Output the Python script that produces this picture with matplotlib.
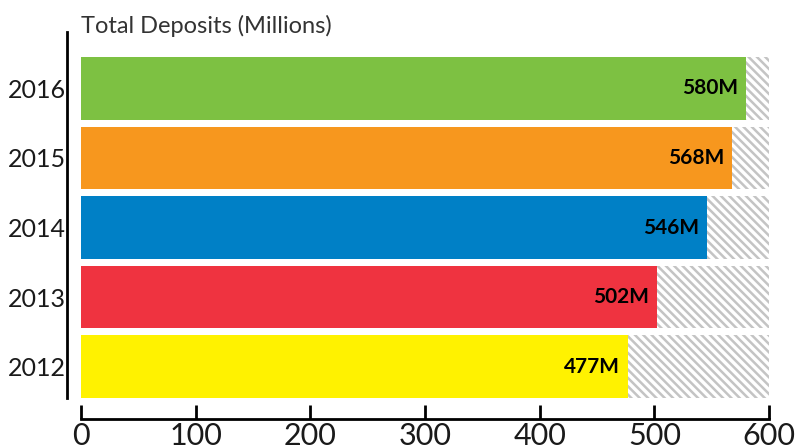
import matplotlib.pyplot as plt

# data
years = ["2012", "2013", "2014", "2015", "2016"]
deposits = [477, 502, 546, 568, 580]
colors = ["#fff200", "#ef3340", "#0080c6", "#f7971e", "#7dc142"]
max_value = 600
x_ticks = [0, 100, 200, 300, 400, 500, 600]

plt.rcParams['hatch.linewidth'] = 1.8
plt.rcParams['hatch.color'] = "#c4c4c4"

fig = plt.figure(figsize=(8, 4.48), dpi=100)
ax = fig.add_axes([0.10125, 0.1116, 0.86, 0.817])

pos = list(range(len(years)))

# hatched "remaining" bars behind the values
ax.barh(pos, [max_value] * len(years), height=0.9, color="white",
        edgecolor="#c4c4c4", linewidth=0, hatch="\\\\\\\\", zorder=1)
ax.barh(pos, deposits, height=0.9, color=colors, zorder=2)

for p, v in zip(pos, deposits):
    ax.text(v - 7, p, f"{v}M", ha="right", va="center", fontsize=15,
            fontweight="bold", family=["Lato", "DejaVu Sans"], color="black", zorder=3)

ax.spines['top'].set_visible(False)
ax.spines['right'].set_visible(False)
ax.spines['left'].set_position(('outward', 10))
ax.spines['bottom'].set_position(('outward', 15))
ax.spines['left'].set_linewidth(2)
ax.spines['bottom'].set_linewidth(2)

ax.set_xlim(0, max_value)
ax.set_ylim(-0.45, 4.81)
ax.set_yticks(pos)
ax.set_yticklabels(years, family=["Lato", "DejaVu Sans"], fontweight="normal",
                   fontsize=18, color="#1a1a1a")
ax.set_xticks(x_ticks)
ax.set_xticklabels([str(t) for t in x_ticks], family=["Lato", "DejaVu Sans"],
                   fontweight="normal", fontsize=22, color="#1a1a1a")
ax.tick_params(axis='y', length=0, pad=1)
ax.tick_params(axis='x', direction='in', length=10, width=2, pad=2)

ax.text(0, 0.997, "Total Deposits (Millions)", transform=ax.transAxes,
        ha="left", va="baseline", fontsize=17, fontweight="normal",
        family=["Lato", "DejaVu Sans"], color="#333333")

fig.savefig("out.png", dpi=100)
